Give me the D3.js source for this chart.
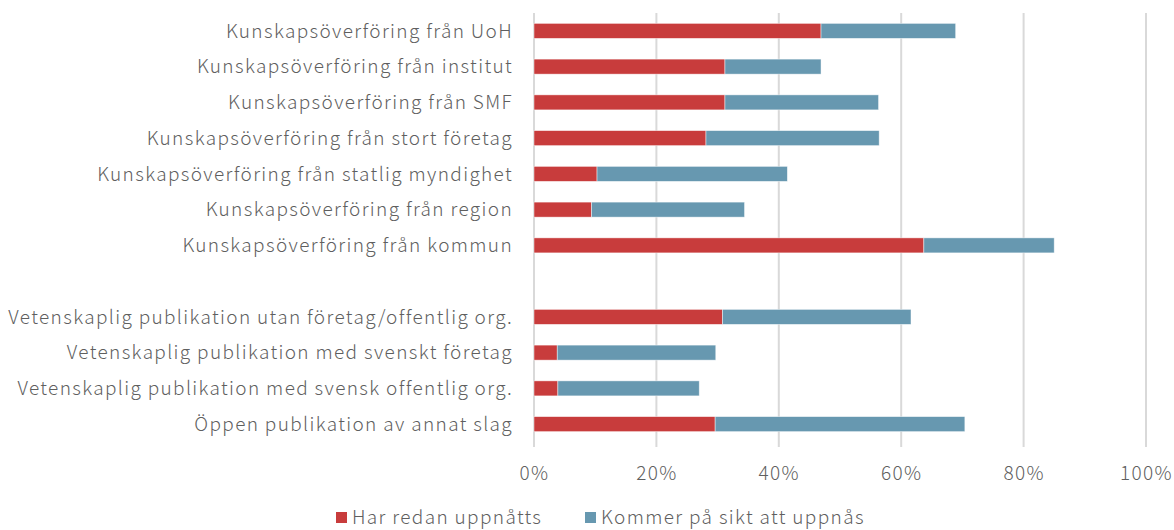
<!DOCTYPE html>
<html>
<head>
<meta charset="utf-8">
<script src="https://cdn.jsdelivr.net/npm/d3@7"></script>
<style>
  body { margin: 0; background: #fff; }
  svg text { font-family: "Noto Sans CJK JP", "Noto Sans", sans-serif; font-weight: 300; fill: #5f5f5f; letter-spacing: 1.35px; }
</style>
</head>
<body>
<div id="chart"></div>
<script>
// categories top to bottom, "" = empty gap row
var categories = [
    "Kunskapsöverföring från UoH",
    "Kunskapsöverföring från institut",
    "Kunskapsöverföring från SMF",
    "Kunskapsöverföring från stort företag",
    "Kunskapsöverföring från statlig myndighet",
    "Kunskapsöverföring från region",
    "Kunskapsöverföring från kommun",
    "",
    "Vetenskaplig publikation utan företag/offentlig org.",
    "Vetenskaplig publikation med svenskt företag",
    "Vetenskaplig publikation med svensk offentlig org.",
    "Öppen publikation av annat slag"
];
// share in percent
var redanUppnatts = [46.9, 31.2, 31.2, 28.1, 10.3, 9.4, 63.7, null, 30.8, 3.8, 3.9, 29.6];
var kommerPaSikt  = [22.0, 15.7, 25.1, 28.3, 31.1, 25.0, 21.3, null, 30.8, 25.9, 23.1, 40.8];
var xTicks = [0, 20, 40, 60, 80, 100];
var seriesNames = ["Har redan uppnåtts", "Kommer på sikt att uppnås"];

var redColor = "#c83c3c";
var blueColor = "#6798b0";

var width = 1174, height = 530;
var margin = {top: 13, right: 28, bottom: 88, left: 534};

var svg = d3.select("#chart").append("svg")
    .attr("width", width)
    .attr("height", height);

var g = svg.append("g")
    .attr("transform", "translate(" + margin.left + "," + margin.top + ")");

var w = width - margin.left - margin.right;
var h = height - margin.top - margin.bottom;

var keys = categories.map(function(c, i){ return "row" + i; });

var xScale = d3.scaleLinear().domain([0, 100]).range([0, w]);
var yScale = d3.scaleBand().domain(keys).range([0, h]).paddingInner(0.58).paddingOuter(0.29);

// gridlines
g.selectAll(".grid")
    .data(xTicks)
    .enter().append("line")
    .attr("x1", function(d){ return xScale(d); })
    .attr("x2", function(d){ return xScale(d); })
    .attr("y1", 0)
    .attr("y2", h + 5)
    .style("stroke", "#d9d9d9")
    .style("stroke-width", 2);

var rows = categories.map(function(c, i){
    return {key: keys[i], label: c, red: redanUppnatts[i], blue: kommerPaSikt[i]};
}).filter(function(d){ return d.red != null; });

g.selectAll(".barRed")
    .data(rows)
    .enter().append("rect")
    .attr("x", xScale(0))
    .attr("y", function(d){ return yScale(d.key); })
    .attr("width", function(d){ return xScale(d.red) - xScale(0); })
    .attr("height", yScale.bandwidth())
    .style("fill", redColor)
    .style("stroke", "#fff")
    .style("stroke-opacity", 0.6)
    .style("stroke-width", 0.75);

g.selectAll(".barBlue")
    .data(rows)
    .enter().append("rect")
    .attr("x", function(d){ return xScale(d.red); })
    .attr("y", function(d){ return yScale(d.key); })
    .attr("width", function(d){ return xScale(d.red + d.blue) - xScale(d.red); })
    .attr("height", yScale.bandwidth())
    .style("fill", blueColor)
    .style("stroke", "#fff")
    .style("stroke-opacity", 0.6)
    .style("stroke-width", 0.75);

// category labels
g.selectAll(".catLabel")
    .data(categories.map(function(c, i){ return {key: keys[i], label: c}; }))
    .enter().append("text")
    .attr("x", -21)
    .attr("y", function(d){ return yScale(d.key) + yScale.bandwidth() / 2; })
    .attr("dy", "0.35em")
    .attr("text-anchor", "end")
    .style("font-size", "19px")
    .text(function(d){ return d.label; });

// x axis labels
var xAxis = g.append("g")
    .attr("transform", "translate(0," + (h + 5) + ")")
    .call(d3.axisBottom(xScale).tickValues(xTicks).tickSize(0).tickPadding(20)
        .tickFormat(function(d){ return d + "%"; }));
xAxis.select(".domain").remove();
xAxis.selectAll("text").style("font-size", "19px").style("fill", "#5f5f5f")
    .style("font-family", "\"Noto Sans CJK JP\", \"Noto Sans\", sans-serif");

// legend
var legendY = 517;
var legend = svg.append("g");
var legendItems = [{x: 336, color: redColor, name: seriesNames[0]}, {x: 585, color: blueColor, name: seriesNames[1]}];
legendItems.forEach(function(it){
    legend.append("rect").attr("x", it.x).attr("y", legendY - 5).attr("width", 11).attr("height", 11).style("fill", it.color);
    legend.append("text").attr("x", it.x + 16).attr("y", legendY).attr("dy", "0.35em")
        .style("font-size", "19px").text(it.name);
});
</script>
</body>
</html>
